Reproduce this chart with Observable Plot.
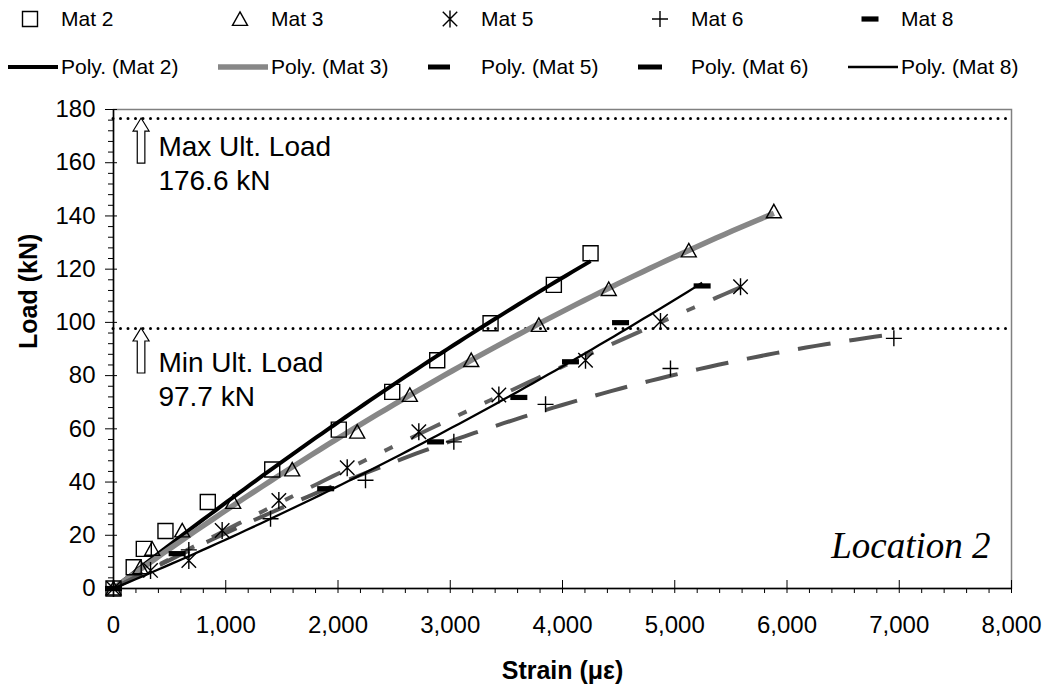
<!DOCTYPE html>
<html><head><meta charset="utf-8">
<script src="https://cdn.jsdelivr.net/npm/d3@7"></script>
<script src="https://cdn.jsdelivr.net/npm/@observablehq/plot@0.6"></script>
<style>
body{margin:0;background:#fff;font-family:Arial,"Liberation Sans",sans-serif;}
#legend{position:relative;width:1050px;height:90px;}
.lt{position:absolute;font-size:21px;line-height:26px;color:#000;white-space:nowrap;}
.ls{position:absolute;overflow:visible;}
</style></head><body>
<div id="legend"></div><div id="chart"></div>
<script>
// ---- data ----
const seriesNames = ["Mat 2", "Mat 3", "Mat 5", "Mat 6", "Mat 8"];
const mat2Strain = [0, 180, 270, 463, 840, 1414, 2007, 2483, 2884, 3359, 3923, 4250];
const mat2Load   = [0, 8, 14.9, 21.6, 32.5, 44.7, 59.7, 73.9, 85.8, 99.7, 114.1, 126.0];
const mat3Strain = [0, 240, 345, 612, 1066, 1592, 2171, 2640, 3187, 3789, 4412, 5125, 5883];
const mat3Load   = [0, 8, 14.9, 21.8, 32.5, 44.7, 58.9, 72.7, 85.8, 99.0, 112.5, 127.0, 141.7];
const mat5Strain = [0, 330, 671, 968, 1473, 2082, 2720, 3433, 4205, 4873, 5586];
const mat5Load   = [0, 6.8, 10.5, 21.8, 33.1, 45.4, 58.9, 72.7, 85.8, 100.3, 113.4];
const mat6Strain = [0, 671, 1399, 2245, 3032, 3849, 4962, 6952];
const mat6Load   = [0, 14.5, 26.2, 40.7, 55.1, 69.2, 82.7, 94.0];
const mat8Strain = [0, 567, 1890, 2869, 3611, 4071, 4517, 5244];
const mat8Load   = [0, 13.1, 37.5, 55.1, 71.8, 85.2, 99.9, 113.7];
const limitValues = [176.6, 97.7];
const limitLabels = ["Max Ult. Load\n176.6 kN", "Min Ult. Load\n97.7 kN"];
const xTicks = [0, 1000, 2000, 3000, 4000, 5000, 6000, 7000, 8000];
const yTicks = [0, 20, 40, 60, 80, 100, 120, 140, 160, 180];
const locationLabel = "Location 2";

// ---- symbols ----
const symSquare = {draw(c, size){const r=Math.sqrt(size/Math.PI); c.rect(-r,-r,2*r,2*r);}};
const symTri = {draw(c, size){const r=Math.sqrt(size/Math.PI); c.moveTo(0,-0.95*r); c.lineTo(r,0.85*r); c.lineTo(-r,0.85*r); c.closePath();}};
const symStar = {draw(c, size){const r=Math.sqrt(size/Math.PI); const k=0.85*r;
  c.moveTo(-k,-k); c.lineTo(k,k); c.moveTo(-k,k); c.lineTo(k,-k); c.moveTo(0,-r); c.lineTo(0,r);}};
const symPlus = {draw(c, size){const r=Math.sqrt(size/Math.PI); c.moveTo(-r,0); c.lineTo(r,0); c.moveTo(0,-r); c.lineTo(0,r);}};
const symDash = {draw(c, size){const r=Math.sqrt(size/Math.PI); c.rect(-r,-2.6,2*r,5.2);}};

const strains = [mat2Strain, mat3Strain, mat5Strain, mat6Strain, mat8Strain];
const loads = [mat2Load, mat3Load, mat5Load, mat6Load, mat8Load];
const symbols = [symSquare, symTri, symStar, symPlus, symDash];
const symR = [7.5, 7.5, 8.5, 8, 8.5];
const trendStyle = [
  {stroke:"#000", strokeWidth:4},
  {stroke:"#878787", strokeWidth:5.5},
  {stroke:"#606060", strokeWidth:4, strokeDasharray:"33,20,9,20,9,20"},
  {stroke:"#555", strokeWidth:4, strokeDasharray:"33,19"},
  {stroke:"#000", strokeWidth:2.3}
];
const legendTrendStyle = [
  {stroke:"#000", w:4, dash:null},
  {stroke:"#878787", w:5.5, dash:null},
  {stroke:"#000", w:5, dash:"22,40"},
  {stroke:"#000", w:5, dash:"24,40"},
  {stroke:"#000", w:2.3, dash:null}
];

// second-order polynomial trend through the origin (as the chart's "Poly." lines)
function polyFit(xs, ys){
  let s2=0,s3=0,s4=0,t1=0,t2=0;
  xs.forEach((xv,i)=>{const x=xv/1000,y=ys[i]; s2+=x*x; s3+=x*x*x; s4+=x*x*x*x; t1+=x*y; t2+=x*x*y;});
  const det=s2*s4-s3*s3, a=(t1*s4-s3*t2)/det, b=(s2*t2-s3*t1)/det;
  return x => a*(x/1000)+b*(x/1000)*(x/1000);
}

const points = [], trends = [];
seriesNames.forEach((name, si) => {
  strains[si].forEach((s, i) => points.push({series: name, strain: s, load: loads[si][i]}));
  const f = polyFit(strains[si], loads[si]);
  const xmax = d3.max(strains[si]);
  d3.range(0, 81).forEach(i => { const x = xmax*i/80; trends.push({series: name, strain: x, load: f(x)}); });
});

// ---- legend ----
const leg = document.getElementById("legend");
const NS = "http://www.w3.org/2000/svg";
function addText(txt, left, cy){ const d=document.createElement("div"); d.className="lt"; d.textContent=txt; d.style.left=left+"px"; d.style.top=(cy-13)+"px"; leg.appendChild(d); }
seriesNames.forEach((name, i) => {
  const cx = 30 + 210*i, cy = 19;
  const svg = document.createElementNS(NS,"svg"); svg.setAttribute("class","ls");
  svg.setAttribute("width",24); svg.setAttribute("height",24);
  svg.style.left=(cx-12)+"px"; svg.style.top=(cy-12)+"px";
  const p = document.createElementNS(NS,"path");
  const r = symR[i]; p.setAttribute("d", d3.symbol(symbols[i], Math.PI*r*r)());
  p.setAttribute("transform","translate(12,12)");
  if (i===4){ p.setAttribute("fill","#000"); } else { p.setAttribute("fill","none"); p.setAttribute("stroke","#000"); p.setAttribute("stroke-width","1.4"); }
  svg.appendChild(p); leg.appendChild(svg);
  addText(name, cx + 31, cy);
  const y2 = 67, x0 = 8 + 210*i;
  const s2 = document.createElementNS(NS,"svg"); s2.setAttribute("class","ls");
  s2.setAttribute("width",52); s2.setAttribute("height",12);
  s2.style.left=x0+"px"; s2.style.top=(y2-6)+"px";
  const ln = document.createElementNS(NS,"line");
  ln.setAttribute("x1",0); ln.setAttribute("x2",50); ln.setAttribute("y1",6); ln.setAttribute("y2",6);
  const st = legendTrendStyle[i];
  ln.setAttribute("stroke", st.stroke); ln.setAttribute("stroke-width", st.w);
  if (st.dash) ln.setAttribute("stroke-dasharray", st.dash);
  s2.appendChild(ln); leg.appendChild(s2);
  addText(`Poly. (${name})`, x0 + 53, y2);
});

// ---- chart ----
const xMinor = d3.range(0, 8001, 200).filter(v => v % 1000 !== 0);
const yMinor = d3.range(0, 181, 4).filter(v => v % 20 !== 0);

function arrowMark(index, scales){
  const g = document.createElementNS(NS, "g");
  limitValues.forEach(v => {
    const cx = scales.x(250), y0 = scales.y(v);
    const p = document.createElementNS(NS, "path");
    p.setAttribute("d", `M${cx},${y0}L${cx+8},${y0+13}L${cx+3.8},${y0+13}L${cx+3.8},${y0+45}L${cx-3.8},${y0+45}L${cx-3.8},${y0+13}L${cx-8},${y0+13}Z`);
    p.setAttribute("fill","#fff"); p.setAttribute("stroke","#000"); p.setAttribute("stroke-width","1.2");
    g.appendChild(p);
  });
  return g;
}

const marks = [
  Plot.frame({stroke:"#808080", strokeWidth:1.5}),
  Plot.ruleY(limitValues, {stroke:"#000", strokeWidth:3, strokeDasharray:"0,7.5", strokeLinecap:"round"}),
  Plot.ruleX([0], {stroke:"#000", strokeWidth:1.5}),
  Plot.ruleY([0], {stroke:"#000", strokeWidth:1.5}),
  Plot.axisX({ticks: xMinor, tickSize: 5, tickFormat: () => "", label: null}),
  Plot.axisX({ticks: xTicks, tickSize: 13, dy: -8, tickFormat: () => "", label: null}),
  Plot.axisY({ticks: yMinor, tickSize: 5, tickFormat: () => "", label: null}),
  Plot.axisY({ticks: yTicks, tickSize: 12, dx: 4, tickFormat: () => "", label: null}),
  Plot.text(xTicks, {x: d => d, frameAnchor: "bottom", lineAnchor: "top", dy: 27, text: d => d3.format(",")(d), fontSize: 24, fill: "#000"}),
  Plot.text(yTicks, {y: d => d, frameAnchor: "left", textAnchor: "end", lineAnchor: "middle", dx: -18, text: d => String(d), fontSize: 24, fill: "#000"}),
  Plot.text(["Load (kN)"], {frameAnchor: "left", rotate: -90, dx: -85, text: d => d, fontSize: 25, fontWeight: "bold", fill: "#000"}),
  Plot.text(["Strain (με)"], {frameAnchor: "bottom", lineAnchor: "bottom", dy: 90, text: d => d, fontSize: 25, fontWeight: "bold", fill: "#000"}),
  arrowMark,
  Plot.text([limitLabels[0]], {x: () => 400, y: () => limitValues[0], text: d => d, textAnchor: "start", lineAnchor: "top", dy: 14, fontSize: 28, lineHeight: 1.2, fill: "#000"}),
  Plot.text([limitLabels[1]], {x: () => 400, y: () => limitValues[1], text: d => d, textAnchor: "start", lineAnchor: "top", dy: 20, fontSize: 28, lineHeight: 1.2, fill: "#000"}),
  Plot.text([locationLabel], {frameAnchor: "bottom-right", textAnchor: "end", lineAnchor: "bottom", dx: -21, dy: -31, text: d => d, fontSize: 37, fontStyle: "italic", fontFamily: "'Liberation Serif','Times New Roman',serif", fill: "#000"}),
];
seriesNames.forEach((name, si) => {
  marks.push(Plot.line(trends.filter(d => d.series === name), {x: "strain", y: "load", ...trendStyle[si], strokeLinecap: "butt"}));
});
seriesNames.forEach((name, si) => {
  const opts = {x: "strain", y: "load", symbol: symbols[si], r: symR[si]};
  if (si === 4) Object.assign(opts, {fill: "#000", stroke: "none"});
  else Object.assign(opts, {fill: "none", stroke: "#000", strokeWidth: 1.4});
  marks.push(Plot.dot(points.filter(d => d.series === name), opts));
});

const chart = Plot.plot({
  width: 1050, height: 598,
  marginTop: 19, marginBottom: 100, marginLeft: 113, marginRight: 39,
  x: {domain: [0, 8000]},
  y: {domain: [0, 180]},
  style: {fontFamily: "Arial, 'Liberation Sans', sans-serif", background: "#fff", overflow: "visible"},
  marks
});
document.getElementById("chart").appendChild(chart);
</script>
</body></html>
